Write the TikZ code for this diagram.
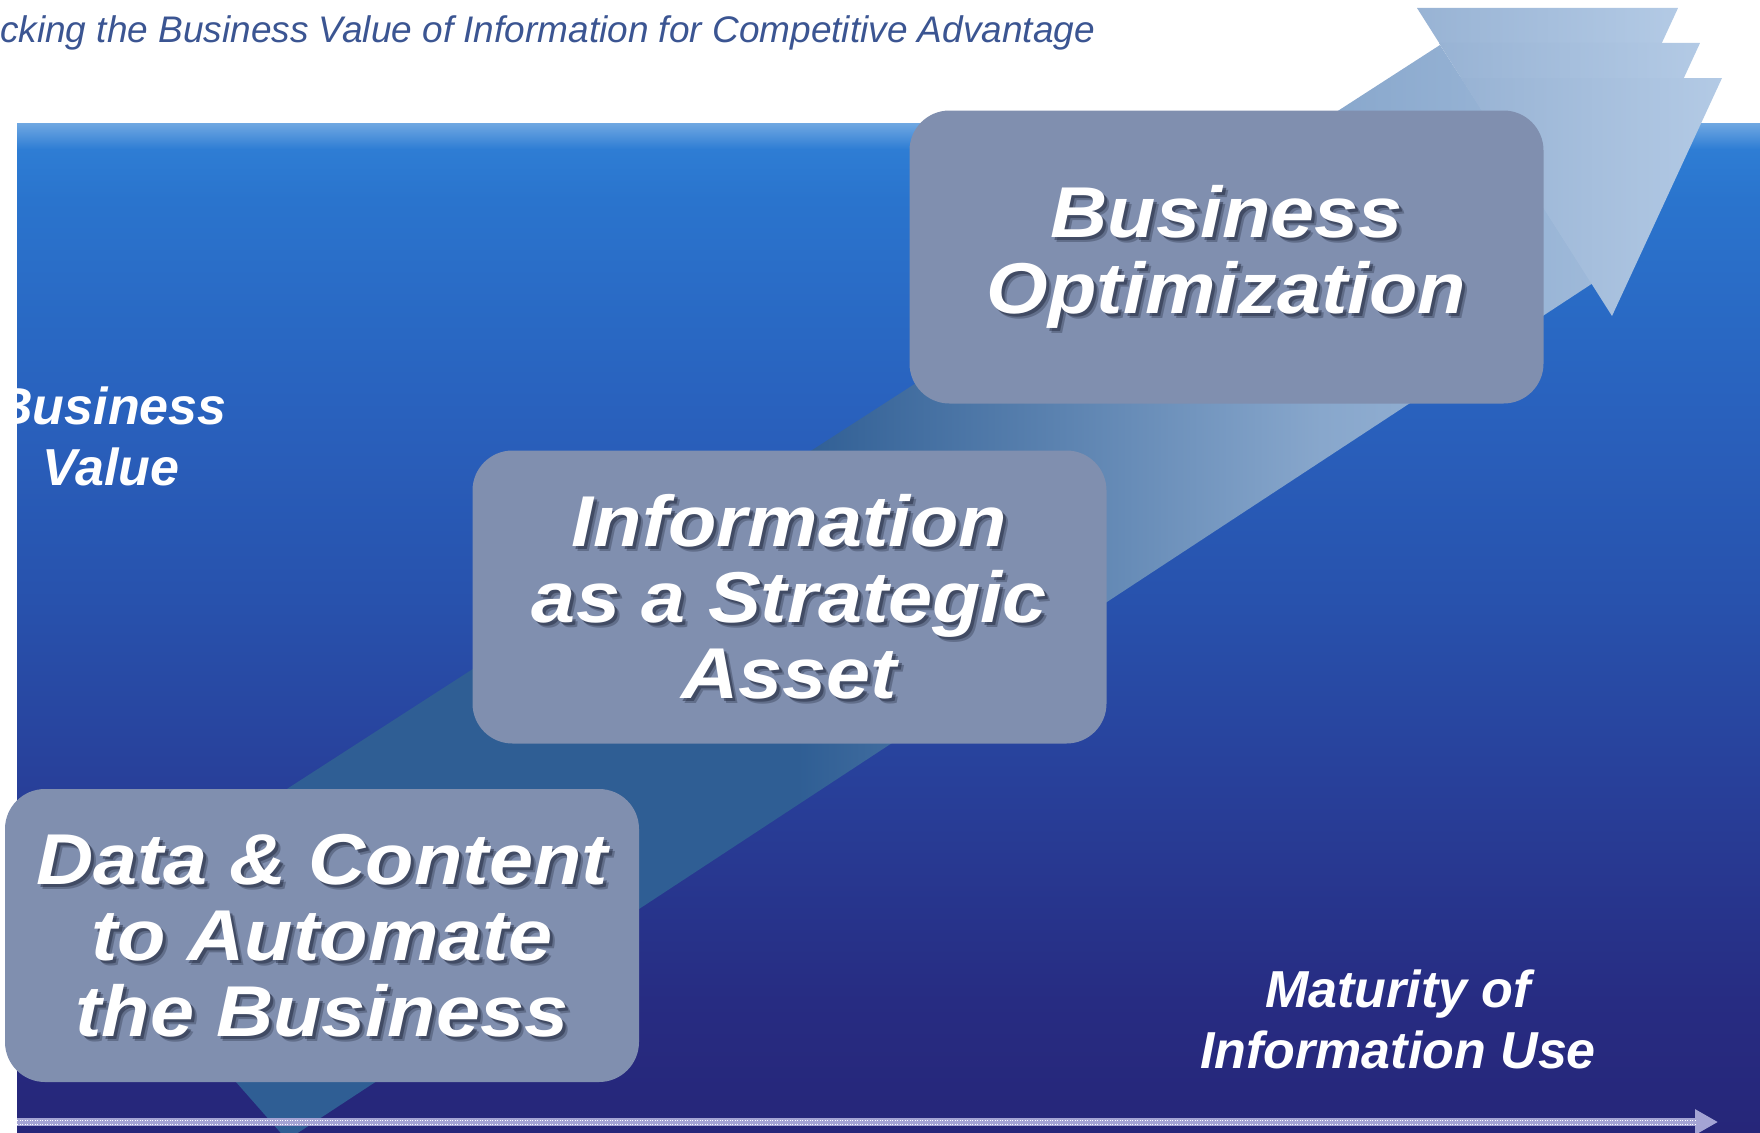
\documentclass[tikz,border=0pt]{standalone}
\usepackage{fontspec}
\setmainfont{Liberation Sans}
\newfontfamily\stagefont[FakeStretch=1.1]{Liberation Sans}
\usetikzlibrary{arrows.meta}

\definecolor{stagefill}{HTML}{808FAF}
\definecolor{shadowcol}{HTML}{1C2236}
\definecolor{titleblue}{HTML}{3B5592}
\definecolor{banddark}{HTML}{2F5E94}
\definecolor{bandlight}{HTML}{88A7CC}
\definecolor{bandpale}{HTML}{9EB9D9}
\definecolor{headleft}{HTML}{98B3D4}
\definecolor{headright}{HTML}{B3CAE5}
\definecolor{axiscol}{HTML}{A4A4D4}
\definecolor{bg0}{HTML}{262679}
\definecolor{bg1}{HTML}{272C82}
\definecolor{bg2}{HTML}{28409A}
\definecolor{bg3}{HTML}{2852AD}
\definecolor{bg4}{HTML}{2962BE}
\definecolor{bg5}{HTML}{2A74CD}
\definecolor{bg6}{HTML}{2E7DD4}
\definecolor{bg7}{HTML}{70A8E2}

\pgfdeclareverticalshading{bgshade}{100bp}{color(0bp)=(bg0); color(25bp)=(bg0); color(31.5bp)=(bg1); color(42.4bp)=(bg2); color(51.4bp)=(bg3); color(61.3bp)=(bg4); color(71.2bp)=(bg5); color(73.7bp)=(bg6); color(75bp)=(bg7); color(100bp)=(bg7)}
\pgfdeclarehorizontalshading{bandshade}{100bp}{color(0bp)=(banddark); color(48.5bp)=(banddark); color(66bp)=(bandlight); color(75bp)=(bandpale); color(100bp)=(bandpale)}

\begin{document}
\begin{tikzpicture}[x=1pt, y=-1pt,
    stage/.style={fill=stagefill, rounded corners=40pt, minimum width=634pt, minimum height=293pt, inner sep=0pt},
    stagetext/.style={align=center, inner sep=0pt, text=white, font=\stagefont\fontsize{72}{76}\selectfont\bfseries\itshape},
    stageshadow/.style={stagetext, text=shadowcol, text opacity=#1},
    axislabel/.style={align=center, inner sep=0pt, text=white, font=\fontsize{52}{61}\selectfont\bfseries\itshape},
    headlayer/.style={left color=headleft, right color=headright},
    axisline/.style={draw=axiscol, line width=8pt, -{Triangle[length=23pt,width=24pt]}}]
    \useasboundingbox (0,0) rectangle (1760,1132);
    \fill[white] (0,0) rectangle (1760,1132);
    \shade[shading=bgshade] (17,123) rectangle (1760,1132);

    % rising band and its stacked heads
    \shade[shading=bandshade] (90,916) -- (287,1140) -- (1593,283) -- (1440,45) -- cycle;
    \foreach \k in {0,1,2}
        \shade[headlayer, shift={(22*\k,35*\k)}] (1417,8) -- (1678,8) -- (1568,246) -- cycle;

    \node[anchor=base west, inner sep=0pt, text=titleblue, font=\fontsize{37}{40}\selectfont\itshape] (title) at (0,43) {cking the Business Value of Information for Competitive Advantage};

    \node[stage] (stage1) at (322,935.5){};
    \node[stage] (stage2) at (789.5,597){};
    \node[stage] (stage3) at (1226.5,257){};

    \foreach \s/\o in {5/0.3,3/0.45}{
        \node[stageshadow=\o] (shadow1-\s) at ([shift={(\s,\s)}]stage1) {Data \& Content\\to Automate\\the Business};
        \node[stageshadow=\o] (shadow2-\s) at ([shift={(\s,\s)}]stage2) {Information\\as a Strategic\\Asset};
        \node[stageshadow=\o] (shadow3-\s) at ([shift={(\s,\s)}]stage3) {Business\\Optimization};
    }
    \node[stagetext] (label1) at (stage1) {Data \& Content\\to Automate\\the Business};
    \node[stagetext] (label2) at (stage2) {Information\\as a Strategic\\Asset};
    \node[stagetext] (label3) at (stage3) {Business\\Optimization};

    \node[axislabel] (yname) at (111,436) {Business\\Value};
    \node[axislabel] (xname) at (1398,1019) {Maturity of\\Information Use};

    % maturity axis
    \coordinate (origin) at (17,1122);
    \coordinate (axisend) at (1718,1122);
    \draw[axisline] (origin) -- (axisend);
    \draw[white, line width=1pt, dash pattern=on 1pt off 1.5pt] ([shift={(0,-2)}]origin) -- ([shift={(-21,-2)}]axisend);
    \draw[white, line width=1pt, dash pattern=on 1pt off 1.5pt] ([shift={(0,2)}]origin) -- ([shift={(-21,2)}]axisend);
\end{tikzpicture}
\end{document}
